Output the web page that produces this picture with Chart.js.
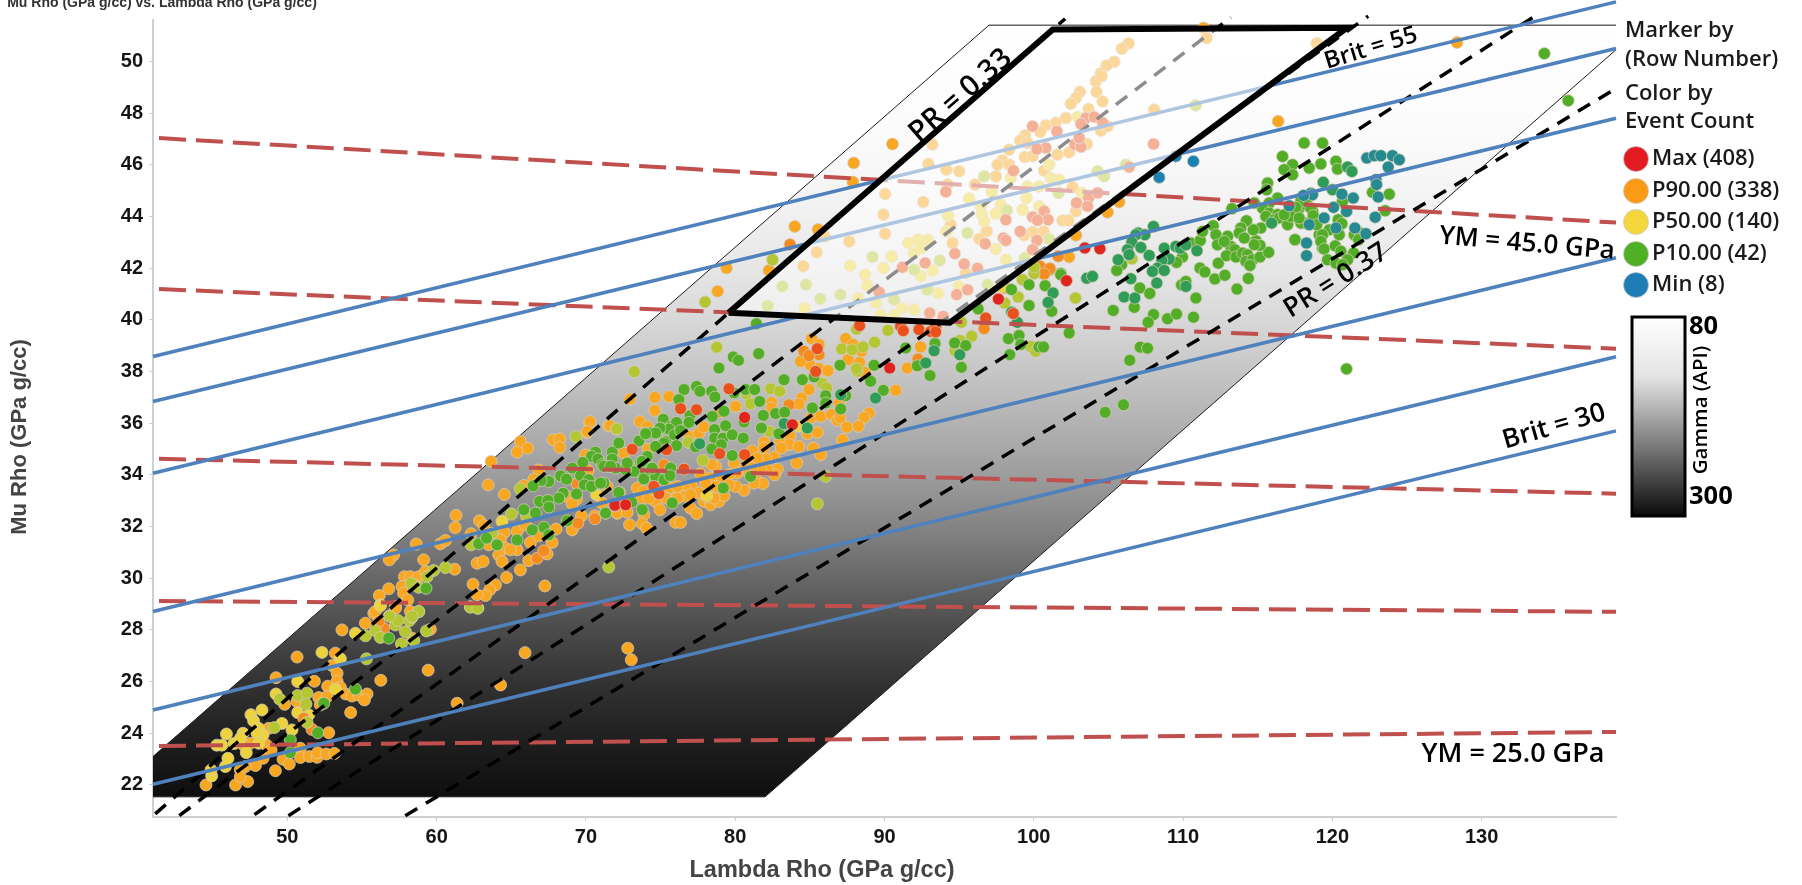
<!DOCTYPE html>
<html>
<head>
<meta charset="utf-8">
<title>Mu Rho vs. Lambda Rho</title>
<script src="https://cdn.jsdelivr.net/npm/chart.js@4"></script>
<style>
  html, body { margin: 0; padding: 0; background: #fff; overflow: hidden; }
  canvas { display: block; }
</style>
</head>
<body>
<canvas id="lmr" width="1802" height="885"></canvas>
<script>
const xTicks = [50, 60, 70, 80, 90, 100, 110, 120, 130];
const yTicks = [22, 24, 26, 28, 30, 32, 34, 36, 38, 40, 42, 44, 46, 48, 50];

// template outline and the selected box, in Lambda Rho / Mu Rho
const templateFill = [[41, 23.1], [97, 51.4], [139, 51.4], [139, 50.45], [82, 21.54], [41, 21.54]];
const templateUpperEdge = [[41, 23.1], [97, 51.4], [139, 51.4]];
const templateLowerEdge = [[139, 50.45], [82, 21.54], [41, 21.54]];
const sweetSpotBox = [[79.56, 40.27], [101.27, 51.23], [120.98, 51.3], [94.37, 39.89]];

// gray level of the template against Mu Rho
const gammaValues = [21.54, 24, 26, 28, 30, 32, 34, 36, 38, 40, 42, 44, 46, 48, 51.4];
const gammaGrays = ['#0e0e0e', '#212121', '#333333', '#4b4b4b', '#676767', '#848484', '#9d9d9d', '#b2b2b2', '#c6c6c6', '#d8d8d8', '#e6e6e6', '#f0f0f0', '#f8f8f8', '#fcfcfc', '#ffffff'];

const britLines = [
  [[41, 38.58], [139, 52.3]],
  [[41, 36.84], [139, 50.5]],
  [[41, 34.06], [139, 47.8]],
  [[41, 28.71], [139, 42.4]],
  [[41, 24.9], [139, 38.57]],
  [[41, 22.03], [139, 35.7]]
];
const ymLines = [
  [[41.4, 47.03], [139, 43.76]],
  [[41.4, 41.19], [139, 38.88]],
  [[41.4, 34.62], [139, 33.27]],
  [[41.4, 29.12], [139, 28.7]],
  [[41.4, 23.51], [139, 24.05]]
];
const prLines = [
  [[41.15, 20.88], [102.1, 51.65]],
  [[42.76, 20.81], [113.2, 51.7]],
  [[47.8, 20.85], [122.4, 51.75]],
  [[50.07, 20.81], [133.7, 51.8]],
  [[57.9, 20.81], [139, 48.95]]
];

const orangePts = [
[44.55,22.0],[46.53,22.0],[53.66,28.0],[55.23,28.26],[55.79,28.64],[57.24,28.9],[59.58,28.02],[58.36,27.68],[59.43,26.44],[56.26,26.05],[61.37,25.16],[64.28,25.87],
[50.65,26.95],[53.22,27.1],[53.0,26.62],[53.33,26.32],[49.24,26.15],[51.81,26.01],[53.33,26.02],[52.7,25.82],[53.55,25.78],[53.91,25.52],[54.33,25.44],[54.78,25.48],
[55.34,25.52],[55.16,25.29],[52.1,25.38],[52.21,25.1],[52.66,25.42],[50.65,25.22],[49.82,25.12],[54.24,24.8],[48.75,24.19],[52.77,24.02],[48.59,23.55],[47.52,23.61],
[47.07,23.55],[48.91,23.35],[50.87,23.42],[48.37,23.03],[49.71,22.99],[50.13,22.81],[50.87,23.06],[51.47,23.1],[51.99,23.07],[52.03,23.25],[52.61,23.2],[53.15,23.22],
[47.86,22.75],[47.19,22.71],[46.85,22.58],[49.2,22.55],[47.34,22.13],[46.85,22.32],[72.8,27.29],[73.04,26.84],[65.92,27.12],
[63.65,34.52],[65.61,35.29],[66.1,35.03],[65.39,34.88],[67.8,35.36],[68.25,35.39],[68.25,35.06],[70.26,36.03],[70.08,35.64],[71.53,35.9],[69.97,34.77],[66.84,34.19],
[66.51,33.83],[65.84,33.59],[63.45,33.61],[64.54,33.24],[70.15,34.17],[71.42,33.55],[68.74,33.16],[69.37,33.06],[69.08,32.88],[71.09,32.9],[72.09,32.52],[70.6,32.41],
[69.7,32.41],[69.08,31.87],[61.3,32.43],[61.24,31.96],[62.87,32.22],[63.16,32.03],[62.31,31.72],[60.25,31.33],[60.59,31.46],[58.64,31.32],[57.12,30.9],[56.83,30.71],
[59.13,30.71],[61.21,30.35],[62.71,30.58],[63.11,30.65],[63.49,31.29],[64.54,31.77],[65.39,31.81],[65.95,32.06],[64.27,31.48],[64.61,31.16],[64.16,30.9],[65.39,31.1],
[64.38,30.65],[64.94,31.1],[66.28,31.38],[66.84,31.64],[67.74,31.38],[68.0,31.9],[67.4,30.94],[66.17,30.68],[65.61,30.32],[64.68,30.03],[67.25,29.7],[62.44,29.77],
[63.94,29.74],[63.56,29.55],[63.27,29.33],[62.71,29.36],[57.84,30.06],[58.24,30.06],[58.8,30.06],[57.68,29.68],[56.79,29.59],[56.16,29.33],[57.79,29.42],[58.06,29.16],
[58.58,29.74],[59.25,30.26],[55.9,28.71],[57.24,28.84],[58.24,28.71],
[72.95,36.93],[74.62,37.0],[74.62,36.49],[73.62,36.06],[74.11,35.87],[75.56,37.03],[70.27,36.06],[70.09,35.68],[71.61,35.9],[74.16,34.99],[72.55,34.84],
[84.94,37.3],[86.17,38.0],[88.74,37.94],[82.44,36.8],[82.44,36.59],[84.45,36.97],[84.27,36.74],[86.95,36.78],[85.06,36.2],[85.73,36.26],[86.44,36.33],[86.84,36.11],
[87.02,36.2],[88.97,36.39],[88.63,36.22],[88.25,35.88],[87.47,35.84],[84.83,35.59],[85.5,35.64],[80.03,36.65],[76.92,35.49],[77.57,35.62],[77.9,35.85],[81.93,35.26],
[81.93,35.04],[83.0,35.36],[83.67,35.49],[83.6,35.17],[83.09,35.04],[84.27,35.1],[85.23,35.04],[85.73,34.78],[87.18,35.36],[81.15,34.93],[84.12,34.46],[82.6,34.69],
[82.04,34.61],[81.48,34.65],[80.81,34.59],[79.92,34.46],[78.69,34.33],[78.42,34.39],[77.68,34.04],[82.82,34.22],[82.64,34.0],[82.15,34.2],[81.7,34.2],[81.15,34.26],
[80.59,34.2],[80.14,34.07],[79.58,34.0],[79.02,33.94],[78.35,33.88],[81.48,33.75],[81.86,33.66],[81.26,33.68],[80.59,33.4],[80.03,33.55],[79.58,33.62],[78.69,33.55],
[78.02,33.68],[77.12,33.53],[76.61,33.49],[76.12,33.3],[75.56,33.49],[75.34,33.1],[73.44,33.49],[73.88,33.36],[73.77,33.1],[74.67,32.97],[74.22,33.1],[74.96,32.65],
[73.88,32.46],[72.1,32.52],[72.77,32.55],[72.92,32.07],[73.77,32.11],[74.06,31.94],[76.01,32.16],[76.34,32.16],[77.01,32.71],[77.42,32.5],[77.91,32.97],[78.35,32.84],
[78.91,32.97],[79.25,33.19],[78.58,33.1],[78.08,33.14],[77.57,33.3],[76.68,33.17],[76.12,33.1],[77.01,33.23],[76.12,33.55],
[85.12,39.27],[85.61,39.04],[85.01,38.26],[85.61,38.11],[86.21,38.03],[84.38,38.39],[87.4,39.27],[87.89,39.04],[88.47,38.78],[87.57,38.46],[88.33,38.35],[88.62,37.97],
[91.53,38.13],[92.42,38.95],[90.75,37.27],[98.08,41.23],
[105.72,44.56],[104.94,44.16],[102.82,43.27],[102.37,42.43],[90.53,46.8],[87.94,46.07],[87.88,45.33],[83.99,43.61],[85.55,43.49],[82.26,41.91],[79.42,42.0],[78.82,41.1],
[116.37,47.68],[128.35,50.73],
[106.35,50.69],[105.9,50.49],[105.39,49.98],[104.87,49.84],[104.49,49.53],[104.16,49.23],[104.54,49.42],[104.2,48.82],[103.09,48.82],[102.82,48.58],[102.48,48.36],[104.61,48.45],
[103.67,48.16],[102.15,47.81],[104.5,47.32],[104.94,47.49],[100.8,47.53],[100.43,47.27],[101.48,47.62],[99.42,47.13],[99.09,46.93],[99.58,46.84],[103.56,46.8],[98.35,46.58],
[99.4,46.3],[99.92,46.33],[101.59,46.39],[102.37,46.48],[97.9,46.16],[97.57,46.0],[98.35,46.0],[100.7,45.77],[97.46,45.55],[96.07,45.23],[94.22,45.23],[93.21,46.78],[92.94,46.03],
[94.15,45.81],[95.0,45.75],[90.04,44.87],[92.59,44.56],[89.93,44.07],[90.04,43.33],[108.07,48.13],[118.96,50.7],[111.37,51.29],[111.58,50.9],[96.85,43.42],[94.55,42.97],[94.44,43.68],
[100.65,43.42],[99.92,43.4],[99.36,43.27],[96.34,43.13],[85.99,43.23],[87.64,43.03],[85.46,42.61],[84.56,42.07],[95.45,41.81],[102.6,45.13],[102.82,44.2],[101.93,43.84],[102.33,43.84]
];
const darkOrangePts = [
[56.46,28.06],[56.12,28.32],[51.65,24.15],[51.1,24.58],[69.41,33.65],[70.6,32.3],[69.46,32.13],[66.73,30.77],[67.18,31.06],[83.6,36.71],[78.98,36.43],[75.23,34.39],
[84.6,38.78],[85.61,38.65],[84.94,38.61],[96.67,39.66],[92.24,38.48],[100.62,41.79],[101.09,41.94],[100.41,42.07],[101.08,41.98],[101.64,42.46],[100.7,41.77],[83.67,42.91]
];
const redOrangePts = [
[71.94,32.8],[73.1,34.99],[79.58,37.33],[85.39,38.0],[77.41,36.52],[76.34,36.56],[75.4,34.97],[78.96,34.82],[80.63,34.78],[76.57,34.22],[74.55,33.55],[74.89,33.27],
[88.33,39.77],[91.08,39.75],[91.26,39.58],[92.31,39.62],[93.09,39.55],[93.43,39.75],[93.43,39.53],[96.78,40.07],[98.63,40.24],[85.5,38.88],
[103.49,47.81],[103.16,47.58],[104.05,47.85],[104.61,47.62],[99.92,47.49],[101.55,47.29],[100.81,46.65],[100.21,46.61],[102.75,46.78],[103.16,46.69],[103.04,47.04],[98.64,45.77],
[94.11,44.95],[103.67,44.71],[104.27,44.91],[102.86,44.52],[103.6,44.39],[100.7,44.2],[99.92,43.98],[100.96,43.87],[100.25,43.85],[98.13,43.87],[99.09,43.42],[97.97,43.16],
[98.13,43.07],[96.74,42.94],[100.21,43.07],[99.92,42.71],[94.71,42.56],[92.72,42.2],[91.2,42.03],[95.34,42.16],[96.23,41.99],[108.02,46.8],[106.39,45.91],[89.65,41.07],[93.03,40.26],
[93.93,40.13],[95.57,41.16],[94.83,40.97]
];
const redPts = [
[80.63,36.22],[83.83,35.94],[71.94,32.82],[72.66,32.84],[90.35,38.13],[97.63,40.8],[102.19,41.51],[103.42,42.78],[104.43,42.75]
];
const yellowPts = [
[44.93,22.35],[44.89,22.58],[45.85,22.71],[46.02,23.03],[45.27,23.54],[45.61,23.54],[45.92,23.97],[46.43,23.6],[54.56,27.87],[56.23,28.97],[52.32,27.13],[53.55,26.88],
[50.69,26.0],[53.22,25.71],[49.24,25.52],[50.69,24.8],[51.43,24.71],[48.3,24.9],[47.56,24.72],[47.74,24.48],[48.08,24.19],[49.64,24.38],[50.31,24.13],[48.37,23.93],
[47.97,24.0],[47.03,24.0],[46.85,23.8],[48.08,23.61],[47.25,23.25],[64.38,32.2],[70.71,33.23],[56.23,28.93],[84.21,35.88],[78.08,33.2],
[91.6,42.97],[92.25,43.1],[92.92,43.1],[91.98,42.58],[92.48,42.78],[90.49,42.45],[93.21,41.9],[89.93,42.0],[101.03,46.0],[98.46,45.49],[101.14,45.49],[101.7,45.42],
[97.19,44.95],[99.58,45.16],[100.36,45.16],[103.22,44.91],[95.67,44.69],[97.79,44.45],[96.45,44.39],[99.51,44.71],[100.36,44.39],[99.25,44.26],[97.46,44.11],[96.52,44.07],
[96.68,43.81],[94.26,44.03],[94.15,43.42],[97.46,42.74],[98.13,42.33],[87.7,42.09],[88.7,41.74],[88.84,41.33],[89.44,40.65],[89.74,40.19],[90.64,40.19],[91.18,40.45],[91.98,40.39],
[93.6,41.03],[92.43,41.68],[94.98,41.29],[97.82,41.29],[88.24,40.84],[84.65,40.45],[102.93,47.85]
];
const yellowGreenPts = [
[55.23,27.77],[55.9,27.97],[56.23,27.71],[56.84,28.54],[57.24,28.19],[57.42,28.36],[57.91,27.93],[58.18,28.36],[58.36,28.49],[58.8,28.71],[58.47,27.59],[57.64,27.46],
[59.32,27.96],[62.27,28.9],[62.76,28.84],[55.3,26.88],[50.69,25.46],[51.32,25.55],[51.25,25.13],[49.49,25.32],[51.32,24.42],[49.13,24.22],[65.01,32.48],[72.05,35.77],
[69.34,35.48],[65.59,33.46],[66.02,32.41],[62.31,31.29],[60.59,30.41],[59.8,30.3],[58.29,29.81],[58.8,29.65],[71.53,30.43],[62.26,28.88],[62.75,28.84],[56.86,28.52],
[58.8,28.71],[58.35,28.52],[59.36,30.06],[63.71,31.74],[73.24,37.99],[72.06,35.78],[80.74,37.14],[82.37,37.33],[82.98,37.23],[85.84,37.53],[86.13,37.36],[88.18,38.0],
[81.03,36.75],[76.86,35.26],[82.31,35.68],[77.84,34.56],[74.55,33.42],[85.5,32.88],[86.06,33.94],[72.25,33.32],[87.13,38.87],[87.84,38.84],[88.56,38.95],[88.13,38.11],
[89.34,39.13],[88.13,39.64],[90.23,39.59],[95.15,39.9],[95.84,39.36],[95.04,39.2],[94.72,38.8],[98.05,40.65],[98.95,40.88],[100.02,41.79],[99.24,41.55],[102.79,40.84],
[99.8,38.97],[100.13,38.78],[82.5,42.32],[77.98,40.69],[78.76,38.94],[100.03,42.04],[106.57,42.36],
[96.68,45.55],[101.66,44.91],[98.2,44.24],[95.56,43.36],[101.03,43.13],[99.4,42.39],[93.7,42.29],[91.98,41.94],[104.27,45.75],[104.72,45.55],[106.17,46.0],[110.84,48.3],
[83.16,41.29],[84.74,41.36],[82.17,40.54],[85.7,40.81],[87.05,40.97],[89.2,42.43],[90.64,40.78],[92.88,41.16],[96.92,41.36]
];
const greenPts = [
[56.79,27.68],[54.56,25.71],[52.44,25.16],[52.03,24.02],[50.2,23.74],[50.2,23.25],
[70.64,34.88],[70.37,34.71],[70.8,34.61],[69.79,34.48],[71.76,34.88],[71.76,34.61],[71.09,34.39],[71.53,34.32],[71.98,34.26],[69.08,34.26],[68.3,33.96],[68.7,33.83],
[69.64,33.97],[70.19,33.81],[69.9,33.61],[70.37,33.55],[71.2,33.68],[67.51,33.74],[67.0,33.78],[66.46,33.57],[72.2,35.23],[68.47,33.29],[68.18,33.1],[69.37,33.26],
[66.89,32.97],[67.45,33.01],[67.51,32.75],[65.84,32.65],[66.62,32.52],[72.2,33.32],[71.31,32.52],[67.18,31.97],[66.4,31.87],[67.51,31.68],[68.74,32.22],[65.39,31.48],
[62.82,31.33],[63.34,31.55],[64.05,31.29],[59.29,29.61],
[75.18,36.15],[73.99,35.61],[74.74,35.61],[73.55,35.31],[75.34,35.29],[75.0,35.8],[75.67,35.87],[74.11,34.71],[73.66,34.51],
[76.57,37.3],[76.23,36.91],[77.41,37.42],[77.64,37.23],[78.42,37.23],[78.64,37.01],[79.92,37.17],[80.7,37.3],[81.3,37.3],[83.27,37.68],[84.5,37.68],[85.28,37.79],
[86.06,37.06],[87.4,37.06],[89.08,37.64],[81.64,36.84],[86.06,36.78],[85.17,36.59],[87.07,36.55],[80.59,36.04],[81.88,36.3],[82.71,36.37],[83.31,36.42],[79.25,36.46],
[78.46,36.26],[76.97,36.29],[76.9,36.03],[76.07,36.03],[75.56,35.77],[74.96,35.81],[74.33,35.62],[74.67,35.62],[74.0,35.59],[75.94,35.55],[76.34,35.71],[75.23,35.23],
[74.67,35.1],[76.07,35.13],[77.35,35.08],[78.62,35.75],[79.36,35.9],[78.62,35.42],[79.18,35.42],[79.8,35.55],[80.54,35.42],[79.07,35.17],[78.42,35.0],[79.8,34.75],
[81.75,35.81],[82.93,35.59],[75.67,34.26],[81.03,33.94],[79.2,33.49],[75.78,32.91],[73.77,32.65],[73.06,32.95],[71.32,32.52],[70.98,33.68],[73.66,34.13],[73.88,33.84],
[73.21,34.13],[72.66,34.2],[74.33,34.2],[74.67,33.94],[75.23,33.81],[75.63,33.97],[73.77,34.52],[74.44,34.26],[72.77,34.46],[71.2,34.33],[71.65,34.33],
[87.02,38.24],[89.3,38.24],[89.07,37.62],[91.42,38.91],[92.2,38.22],[93.38,39.08],[93.05,37.84],[94.7,39.1],[95.44,39.0],[95.15,38.16],[96.27,40.42],[98.5,41.17],
[99.68,41.36],[99.68,40.55],[100.76,41.32],[101.2,40.33],[101.81,41.79],[102.37,39.49],[98.3,39.27],[99.01,39.39],[98.39,38.65],[99.13,39.04],[100.35,38.95],[100.65,38.95],
[89.92,37.27],[81.42,39.85],[79.87,38.56],[80.22,38.43],[81.57,38.69],[78.91,38.13],[101.81,41.74],
[105.32,40.36],[107.1,41.23],[107.77,41.02],[109.9,41.35],[110.19,41.48],[110.86,40.84],[111.13,42.0],[111.46,41.85],[112.13,41.58],[112.8,41.72],[112.36,42.19],[114.37,41.6],
[113.61,41.19],[106.73,40.48],[108.02,40.2],[107.66,39.9],[108.96,40.04],[109.56,40.22],[110.7,40.1],[107.13,38.94],[107.62,38.9],[106.43,38.43],[106.01,36.71],[104.78,36.42],
[110.52,42.97],[111.15,43.07],[111.3,43.42],[112.02,43.64],[112.2,43.29],[109.96,42.43],[109.56,42.22],[105.88,42.13],[105.56,41.91],
[112.98,43.23],[112.31,42.9],[113.2,42.84],[113.47,42.71],[112.91,42.48],[113.54,42.43],[113.99,42.58],[114.32,42.52],[114.21,42.26],[114.66,42.32],[114.48,42.1],[115.15,42.43],
[115.73,42.61],[114.88,43.06],[115.15,42.88],[115.21,43.55],[114.7,43.48],[114.25,43.83],[113.87,43.55],[113.76,43.36],[114.1,43.16],[114.77,42.9],[112.76,43.03],
[115.66,45.29],[115.6,45.03],[116.33,44.71],[115.77,44.52],[115.33,44.32],[115.77,44.13],[115.55,44.0],[116.33,44.07],[116.11,43.87],[116.44,43.94],[117.0,43.68],[117.34,44.07],
[117.67,43.94],[117.9,44.71],[117.78,44.32],[118.23,44.45],[118.68,44.2],[118.23,43.74],[117.9,43.74],[118.9,43.68],[117.52,43.1],[119.12,43.29],[119.35,42.77],[113.27,44.3],[114.77,44.52],
[118.11,46.84],[119.34,46.84],[116.66,46.32],[117.33,46.0],[116.77,45.81],[117.33,45.61],[118.45,45.87],[119.23,46.03],[120.24,46.13],[120.35,45.83],[122.69,44.93],[123.81,44.86],
[120.68,44.58],[123.54,44.22],[117.89,44.58],[118.34,44.71],[117.56,44.35],[118.56,44.32],[117.22,44.0],[116.77,44.06],[117.78,43.94],[118.72,44.03],[118.96,43.68],[119.79,43.48],
[120.39,43.87],[120.64,43.72],[120.46,43.29],[119.34,43.29],[119.23,43.03],[119.45,42.74],[117.49,43.1],[121.47,43.29],[121.87,43.36],[121.76,43.1],[120.19,42.86],[120.57,42.65],
[121.42,42.58],[121.02,42.32],[119.68,42.32],[120.24,42.19],[120.68,42.13],
[134.2,50.3],[135.8,48.48],[120.95,38.1]
];
const darkGreenPts = [
[87.07,37.1],[89.4,36.97],[83.27,35.98],[84.83,35.81],[77.62,35.2],[93.32,38.8],[92.76,38.33],[95.04,38.65],[98.52,40.3],[98.9,39.9],[101.29,41.04],[100.96,40.67],
[108.02,43.61],[106.99,43.36],[107.44,43.29],[106.84,43.29],[106.57,43.0],[107.17,42.8],[106.28,42.71],[106.39,42.52],[107.73,42.49],[108.74,42.77],[109.52,42.84],[109.81,42.77],
[110.19,42.9],[110.93,42.67],[109.07,42.35],[108.58,42.3],[108.29,42.0],[107.95,41.87],[108.74,41.91],[105.65,42.32],[106.5,41.59],[108.24,41.42],[110.19,41.29],[106.05,40.88],
[106.77,40.84],[103.55,41.61],[103.93,41.68],[115.93,43.74],[121.02,45.91],[121.31,45.74],[119.39,45.32],[120.01,45.03]
];
const tealPts = [
[117.11,44.41],[118.57,44.9],[118.45,43.68],[118.27,42.97],[118.27,42.48],[122.31,46.26],[122.81,46.35],[123.25,46.35],[124.03,46.35],[124.48,46.19],[123.74,45.91],
[122.92,45.42],[122.96,45.23],[123.07,44.75],[120.64,44.86],[121.4,44.71],[120.08,44.35],[120.95,44.19],[122.87,43.97],[118.67,44.84],[118.07,44.81],[119.45,43.94],
[120.24,43.55],[121.51,43.55],[122.25,43.33]
];
const bluePts = [
[108.4,45.51],[109.52,46.33],[110.69,46.13]
];

const toXY = list => list.map(([x, y]) => ({ x, y }));

const pointSeries = [
  [orangePts, '#f9a621'],
  [yellowPts, '#ecd33c'],
  [darkOrangePts, '#f58a1e'],
  [yellowGreenPts, '#b4c733'],
  [greenPts, '#52ad27'],
  [darkGreenPts, '#2f9c57'],
  [tealPts, '#258b90'],
  [bluePts, '#1b80b2'],
  [redOrangePts, '#e9501c'],
  [redPts, '#e0251f']
];

function lineSet(points, color, width, dash, order) {
  return {
    data: toXY(points),
    showLine: true,
    borderColor: color,
    borderWidth: width,
    borderDash: dash,
    pointRadius: 0,
    tension: 0,
    clip: false,
    order: order
  };
}

const datasets = [];

// gradient template at the back
datasets.push({
  data: toXY(templateFill.concat([templateFill[0]])),
  showLine: true,
  fill: 'shape',
  borderWidth: 0,
  borderColor: 'rgba(0,0,0,0)',
  pointRadius: 0,
  tension: 0,
  order: 100,
  backgroundColor: c => {
    const area = c.chart.chartArea;
    if (!area) return '#888';
    const yScale = c.chart.scales.y;
    const top = yScale.getPixelForValue(gammaValues[gammaValues.length - 1]);
    const bottom = yScale.getPixelForValue(gammaValues[0]);
    const g = c.chart.ctx.createLinearGradient(0, top, 0, bottom);
    gammaValues.forEach((v, i) => {
      g.addColorStop((yScale.getPixelForValue(v) - top) / (bottom - top), gammaGrays[i]);
    });
    return g;
  }
});
datasets.push(lineSet(templateUpperEdge, '#1a1a1a', 1, [], 99));
datasets.push(lineSet(templateLowerEdge, '#1a1a1a', 1, [], 99));

pointSeries.forEach(([list, color], i) => {
  datasets.push({
    data: toXY(list),
    backgroundColor: color,
    borderColor: 'rgba(214,204,186,0.75)',
    borderWidth: 1,
    pointRadius: 6,
    pointHoverRadius: 6,
    order: 60 - i
  });
});

ymLines.forEach(l => datasets.push(lineSet(l, '#c0504d', 4, [27, 10], 30)));
prLines.forEach(l => datasets.push(lineSet(l, '#000000', 3.5, [14, 10], 29)));
britLines.forEach(l => datasets.push(lineSet(l, '#4f81bd', 3.5, [], 28)));

// selected box washes out whatever is under it
datasets.push({
  data: toXY(sweetSpotBox.concat([sweetSpotBox[0]])),
  showLine: true,
  fill: 'shape',
  backgroundColor: 'rgba(255,255,255,0.55)',
  borderColor: '#000000',
  borderWidth: 6,
  borderJoinStyle: 'miter',
  pointRadius: 0,
  tension: 0,
  order: 5
});

const textPlugin = {
  id: 'textPlugin',
  afterDraw(chart) {
    const { ctx, scales: { x, y } } = chart;
    const label = (text, px, py, font, color, angle) => {
      ctx.save();
      ctx.translate(px, py);
      ctx.rotate((angle || 0) * Math.PI / 180);
      ctx.font = font;
      ctx.fillStyle = color;
      ctx.textAlign = 'center';
      ctx.textBaseline = 'middle';
      ctx.fillText(text, 0, 0);
      ctx.restore();
    };
    label('PR = 0.33', x.getPixelForValue(95.1), y.getPixelForValue(48.67), '600 29px "Open Sans"', '#000', -41);
    label('PR = 0.37', x.getPixelForValue(120.24), y.getPixelForValue(41.51), '600 27px "Open Sans"', '#000', -32);
    label('Brit = 55', x.getPixelForValue(122.59), y.getPixelForValue(50.5), '600 24px "Open Sans"', '#000', -17);
    label('Brit = 30', x.getPixelForValue(134.85), y.getPixelForValue(35.86), '600 26.5px "Open Sans"', '#000', -16);
    label('YM = 45.0 GPa', x.getPixelForValue(133.04), y.getPixelForValue(42.94), '600 26px "Open Sans"', '#000', 5);
    label('YM = 25.0 GPa', x.getPixelForValue(132.1), y.getPixelForValue(23.2), '600 27px "Open Sans"', '#000', 0);

    // chart and axis titles
    label('Mu Rho (GPa g/cc) vs. Lambda Rho (GPa g/cc)', 162, 3, 'bold 14px "Liberation Sans"', '#333', 0);
    label('Lambda Rho (GPa g/cc)', 822, 871, 'bold 23.5px "Liberation Sans"', '#444', 0);
    label('Mu Rho (GPa g/cc)', 20, 437, 'bold 22px "Liberation Sans"', '#444', -90);

    // legend block
    ctx.save();
    ctx.textAlign = 'left';
    ctx.textBaseline = 'middle';
    ctx.fillStyle = '#1a1a1a';
    ctx.font = '600 22px "Open Sans"';
    [['Marker by', 31], ['(Row Number)', 60], ['Color by', 94], ['Event Count', 122]].forEach(([t, py]) => ctx.fillText(t, 1625, py));
    [['Max (408)', 159, '#e21b23'], ['P90.00 (338)', 191, '#fb9a14'], ['P50.00 (140)', 222, '#f5d63d'], ['P10.00 (42)', 254, '#4fb025'], ['Min (8)', 285, '#1f7db6']].forEach(([t, py, col]) => {
      ctx.beginPath();
      ctx.arc(1636, py, 12.5, 0, Math.PI * 2);
      ctx.fillStyle = col;
      ctx.fill();
      ctx.lineWidth = 1;
      ctx.strokeStyle = 'rgba(200,200,200,0.7)';
      ctx.stroke();
      ctx.fillStyle = '#1a1a1a';
      ctx.fillText(t, 1652, py);
    });
    // gamma colour bar
    const bar = ctx.createLinearGradient(0, 317, 0, 516);
    bar.addColorStop(0, '#ffffff');
    bar.addColorStop(0.3, '#e4e4e4');
    bar.addColorStop(0.7, '#6a6a6a');
    bar.addColorStop(1, '#0a0a0a');
    ctx.fillStyle = bar;
    ctx.fillRect(1632, 317, 53, 199);
    ctx.lineWidth = 3;
    ctx.strokeStyle = '#000';
    ctx.strokeRect(1632, 317, 53, 199);
    ctx.restore();
    ctx.textAlign = 'left';
    ctx.textBaseline = 'middle';
    ctx.font = '700 25.5px "Open Sans"';
    ctx.fillStyle = '#000';
    ctx.fillText('80', 1689, 327);
    ctx.fillText('300', 1689, 497);
    label('Gamma (API)', 1701, 410, '600 20.5px "Open Sans"', '#000', -90);
  }
};

new Chart(document.getElementById('lmr'), {
  type: 'scatter',
  data: { datasets },
  options: {
    responsive: false,
    animation: false,
    events: [],
    layout: { padding: { top: 20, right: 186, left: 0, bottom: 0 } },
    plugins: { legend: { display: false }, tooltip: { enabled: false }, title: { display: false } },
    scales: {
      x: {
        type: 'linear',
        min: 41,
        max: 139,
        afterFit: s => { s.height = 68; },
        afterBuildTicks: s => { s.ticks = xTicks.map(value => ({ value })); },
        grid: { drawOnChartArea: false, color: '#cfcfcf', tickLength: 4 },
        border: { color: '#cfcfcf', width: 2 },
        ticks: { maxRotation: 0, padding: 4, color: '#151515', font: { family: '"Liberation Sans"', weight: 'bold', size: 20 } }
      },
      y: {
        type: 'linear',
        min: 20.76,
        max: 51.6,
        afterFit: s => { s.width = 153; },
        afterBuildTicks: s => { s.ticks = yTicks.map(value => ({ value })); },
        grid: { drawOnChartArea: false, color: '#cfcfcf', tickLength: 4 },
        border: { color: '#cfcfcf', width: 2 },
        ticks: { padding: 6, color: '#151515', font: { family: '"Liberation Sans"', weight: 'bold', size: 20 } }
      }
    }
  },
  plugins: [textPlugin]
});
</script>
</body>
</html>
